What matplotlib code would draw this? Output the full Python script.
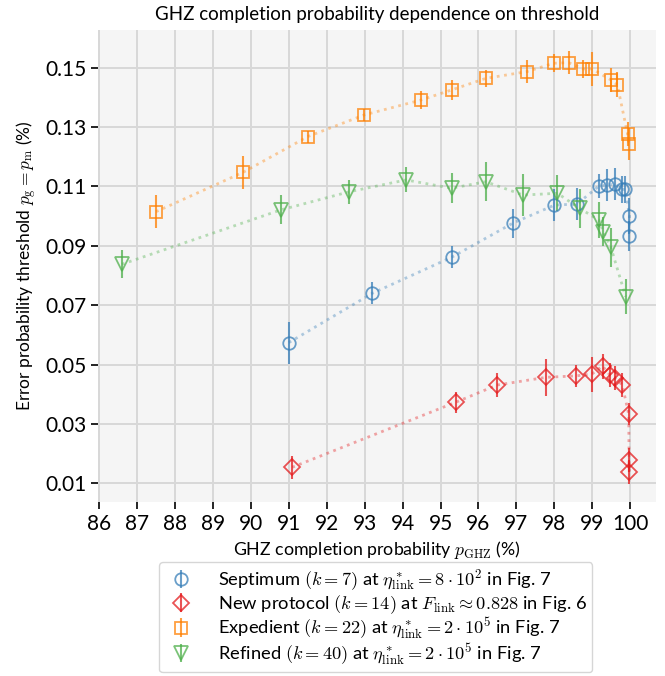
import matplotlib
matplotlib.use("Agg")
import matplotlib.pyplot as plt

plt.rcParams["font.family"] = ["Lato", "DejaVu Sans"]
plt.rcParams["mathtext.fontset"] = "cm"

# GHZ completion probability (%) vs. error probability threshold (%)
sept_x = [91.0, 93.2, 95.3, 96.9, 98.0, 98.6, 99.17, 99.38, 99.59, 99.77, 99.87, 99.98, 99.98]
sept_y = [0.0574, 0.0740, 0.0862, 0.0976, 0.1037, 0.1041, 0.1101, 0.1105, 0.1108, 0.1090, 0.1090, 0.1001, 0.0934]
sept_err = [0.0071, 0.0037, 0.0038, 0.0049, 0.0055, 0.0054, 0.0041, 0.0053, 0.0053, 0.0045, 0.0045, 0.0060, 0.0050]

newp_x = [91.09, 95.40, 96.49, 97.78, 98.58, 98.99, 99.27, 99.46, 99.59, 99.79, 99.96, 99.97, 99.98]
newp_y = [0.0154, 0.0373, 0.0431, 0.0457, 0.0462, 0.0468, 0.0495, 0.0465, 0.0455, 0.0432, 0.0332, 0.0178, 0.0139]
newp_err = [0.0038, 0.0035, 0.0041, 0.0063, 0.0038, 0.0059, 0.0042, 0.0040, 0.0040, 0.0040, 0.0037, 0.0040, 0.0040]

exped_x = [87.50, 89.80, 91.50, 92.99, 94.48, 95.29, 96.19, 97.28, 97.98, 98.38, 98.76, 98.99, 99.49, 99.66, 99.93, 99.96]
exped_y = [0.1015, 0.1148, 0.1268, 0.1341, 0.1391, 0.1425, 0.1464, 0.1487, 0.1515, 0.1517, 0.1496, 0.1496, 0.1459, 0.1442, 0.1277, 0.1243]
exped_err = [0.0055, 0.0055, 0.0020, 0.0020, 0.0030, 0.0033, 0.0028, 0.0040, 0.0030, 0.0038, 0.0030, 0.0058, 0.0040, 0.0042, 0.0040, 0.0053]

refin_x = [86.60, 90.79, 92.59, 94.09, 95.29, 96.19, 97.18, 98.08, 98.67, 99.17, 99.29, 99.49, 99.88]
refin_y = [0.0838, 0.1021, 0.1082, 0.1122, 0.1094, 0.1116, 0.1071, 0.1077, 0.1026, 0.0987, 0.0948, 0.0895, 0.0729]
refin_err = [0.0048, 0.0049, 0.0040, 0.0042, 0.0050, 0.0066, 0.0070, 0.0060, 0.0067, 0.0059, 0.0050, 0.0066, 0.0059]

labels = [
    r"Septimum $(k=7)$ at $\eta^*_{\mathrm{link}}=8\cdot10^2$ in Fig. 7",
    r"New protocol $(k=14)$ at $F_{\mathrm{link}}\approx0.828$ in Fig. 6",
    r"Expedient $(k=22)$ at $\eta^*_{\mathrm{link}}=2\cdot10^5$ in Fig. 7",
    r"Refined $(k=40)$ at $\eta^*_{\mathrm{link}}=2\cdot10^5$ in Fig. 7",
]
x_ticks = list(range(86, 101))
y_ticks = [0.01, 0.03, 0.05, 0.07, 0.09, 0.11, 0.13, 0.15]

series = [
    (sept_x, sept_y, sept_err, "#377eb8", "o", 9),
    (newp_x, newp_y, newp_err, "#e41a1c", "D", 8.5),
    (exped_x, exped_y, exped_err, "#ff7f00", "s", 9),
    (refin_x, refin_y, refin_err, "#4daf4a", "v", 10),
]

fig = plt.figure(figsize=(6.65, 6.76), dpi=100)
ax = fig.add_axes([0.1474, 0.2574, 0.8391, 0.6982])
ax.set_facecolor("#f5f5f5")
for s in ax.spines.values():
    s.set_visible(False)
ax.grid(True, color="#d8d8d8", linewidth=1.4)
ax.set_axisbelow(True)

for (xs, ys, es, col, mk, ms), lab in zip(series, labels):
    ax.plot(xs, ys, linestyle=":", color=col, alpha=0.38, linewidth=2, zorder=2)
    ax.errorbar(xs, ys, yerr=es, fmt=mk, color=col, markersize=ms,
                markerfacecolor="none", markeredgewidth=1.3, elinewidth=1.5,
                capsize=0, alpha=0.75, label=lab, zorder=3)

ax.set_xlim(85.97, 100.68)
ax.set_ylim(0.0037, 0.1627)
ax.set_xticks(x_ticks)
ax.set_yticks(y_ticks)
ax.set_yticklabels([f"{v:.2f}" for v in y_ticks])
ax.tick_params(axis="both", labelsize=15, length=5, width=1.2, color="black")

ax.set_title("GHZ completion probability dependence on threshold", fontsize=13.5, pad=7)
ax.set_xlabel(r"GHZ completion probability $p_{\mathrm{GHZ}}$ (%)", fontsize=12.8)
ax.set_ylabel(r"Error probability threshold $p_{\mathrm{g}}=p_{\mathrm{m}}$ (%)", fontsize=12.5)

leg = fig.legend(loc="lower center", bbox_to_anchor=(0.565, -0.008), fontsize=13.2,
                 frameon=True, handletextpad=1.1, borderpad=0.3, labelspacing=0.0,
                 handlelength=1.8)
leg.get_frame().set_edgecolor("#cccccc")

fig.savefig("out.png", dpi=100)
